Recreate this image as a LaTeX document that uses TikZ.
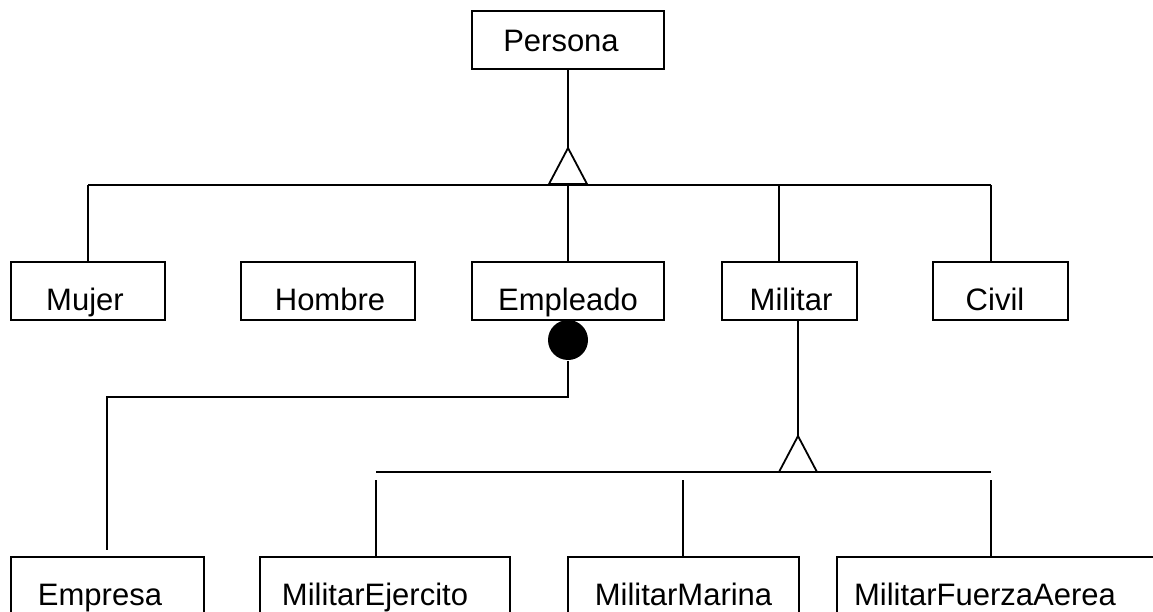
\documentclass[tikz,border=0pt]{standalone}
\usepackage{fontspec}
\setmainfont{Liberation Sans}
\usetikzlibrary{calc}
\begin{document}
\begin{tikzpicture}[x=1pt,y=-1pt,line width=1.8pt,
  entity/.style={draw, rectangle, inner sep=0pt, minimum height=58pt,
    text height=48pt, text depth=10pt, font=\fontsize{31}{36}\selectfont},
  isa/.style={draw, fill=white, line join=miter},
  dotmark/.style={circle, fill=black, inner sep=0pt, minimum size=40pt}
]
\useasboundingbox (0,0) rectangle (1153,612);
\clip (0,0) rectangle (1153,612);

% entities
\node[entity, minimum width=192pt, text height=41pt, text depth=17pt] (persona) at (568,40) {Persona\hspace*{14pt}};
\node[entity, minimum width=154pt] (mujer)    at (88,291)    {Mujer\hspace*{6pt}};
\node[entity, minimum width=174pt] (hombre)   at (328,291)   {\hspace*{4pt}Hombre};
\node[entity, minimum width=192pt] (empleado) at (568,291)   {Empleado};
\node[entity, minimum width=135pt] (militar)  at (789.5,291) {\hspace*{3pt}Militar};
\node[entity, minimum width=135pt] (civil)    at (1000.5,291){Civil\hspace*{11pt}};

\node[entity, minimum width=193pt] (empresa)  at (107.5,586) {Empresa\hspace*{15pt}};
\node[entity, minimum width=250pt] (ejercito) at (385,586)   {MilitarEjercito\hspace*{20pt}};
\node[entity, minimum width=231pt] (marina)   at (683.5,586) {MilitarMarina};
\node[entity, minimum width=323pt] (fuerza)   at (998.5,586) {MilitarFuerzaAerea\hspace*{27pt}};

% Persona specialization
\coordinate (t1) at (568,148);
\coordinate (bar1L) at (88,185);
\coordinate (bar1R) at (991,185);
\draw (persona.south) -- (t1);
\draw (bar1L) -- (bar1R);
\draw (bar1L) -- (mujer.north);
\draw (empleado.north |- bar1L) -- (empleado.north);
\draw (bar1L -| 779,0) -- ($(militar.north)+(-10.5,0)$);
\draw (bar1R) -- ($(civil.north)+(-9.5,0)$);
\draw[isa] (t1) -- ++(-19,36) -- ++(38,0) -- cycle;

% Empleado -- Empresa
\node[dotmark] (dot) at (568,340) {};
\coordinate (bend) at (568,397);
\coordinate (empEnd) at (107,550);
\draw (dot.south) -- (bend) -| (empEnd);

% Militar specialization
\coordinate (t2) at (798,436);
\coordinate (bar2L) at (376,472);
\coordinate (bar2R) at (991,472);
\draw ($(militar.south)+(8.5,0)$) -- (t2);
\draw (bar2L) -- (bar2R);
\coordinate (d1) at (376,480);
\coordinate (d2) at (683,480);
\coordinate (d3) at (991,480);
\draw (d1) -- (d1 |- ejercito.north);
\draw (d2) -- (d2 |- marina.north);
\draw (d3) -- (d3 |- fuerza.north);
\draw[isa] (t2) -- ++(-19,36) -- ++(38,0) -- cycle;
\end{tikzpicture}
\end{document}
